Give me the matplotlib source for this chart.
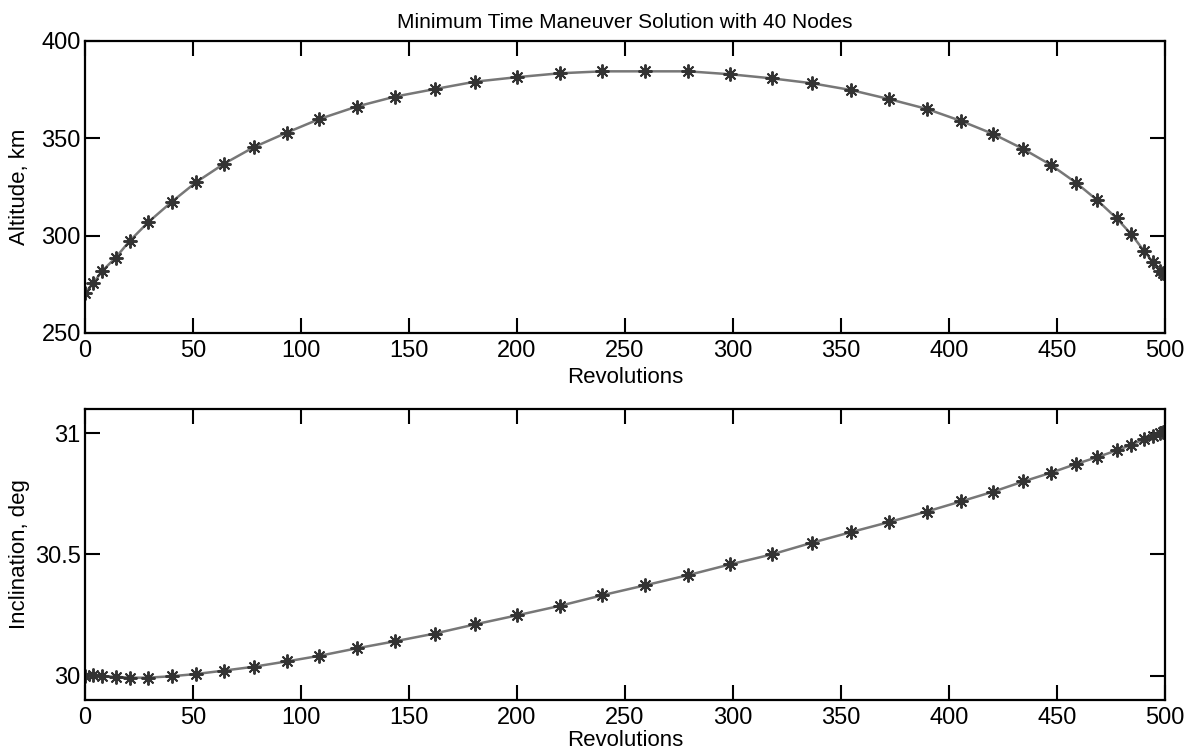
import matplotlib
matplotlib.use('Agg')
import matplotlib.pyplot as plt
from matplotlib.ticker import FuncFormatter

plt.rcParams['font.family'] = ['Liberation Sans', 'DejaVu Sans']

# node locations (revolutions)
revolutions = [0.0, 3.8, 8.1, 14.2, 20.8, 29.3, 40.1, 51.4, 64.2, 78.1,
               93.4, 108.5, 125.8, 143.5, 162.0, 180.7, 200.0, 219.8, 239.5, 259.4,
               279.3, 298.6, 317.9, 336.4, 354.6, 372.4, 389.7, 405.6, 420.5, 434.4,
               447.2, 458.8, 468.5, 477.6, 484.4, 490.2, 494.4, 497.6, 499.3, 500.0]

altitude = [270.5, 275.6, 282.0, 288.7, 297.4, 306.9, 317.3, 327.4, 336.8, 345.4,
            352.9, 359.9, 366.3, 371.4, 375.3, 379.1, 381.4, 383.4, 384.4, 384.4,
            384.4, 382.9, 380.8, 378.3, 374.8, 370.1, 365.1, 358.9, 352.2, 344.5,
            336.3, 327.2, 318.3, 308.9, 300.7, 292.3, 286.3, 282.0, 280.7, 280.0]

inclination = [30.000, 30.003, 29.998, 29.996, 29.992, 29.992, 29.998, 30.007, 30.021, 30.037,
               30.059, 30.082, 30.113, 30.142, 30.174, 30.212, 30.249, 30.288, 30.332, 30.373,
               30.415, 30.459, 30.500, 30.548, 30.592, 30.634, 30.677, 30.719, 30.759, 30.801,
               30.837, 30.873, 30.901, 30.929, 30.952, 30.975, 30.990, 31.000, 31.005, 31.008]

x_ticks = [0, 50, 100, 150, 200, 250, 300, 350, 400, 450, 500]
alt_ticks = [250, 300, 350, 400]
inc_ticks = [30, 30.5, 31]

fig = plt.figure(figsize=(11.9, 7.53), dpi=100)
ax1 = fig.add_axes([0.0714, 0.5578, 0.9076, 0.3878])
ax2 = fig.add_axes([0.0714, 0.0704, 0.9076, 0.3865])

line_col = '#777777'
mark_col = '#333333'
asterisk = (8, 2, 0)  # MATLAB style '*'


def style(ax, xpad):
    ax.set_xlim(0, 500)
    ax.set_xticks(x_ticks)
    ax.tick_params(direction='in', length=11, width=1.5, top=True, right=True,
                   labelsize=17, colors='black')
    ax.tick_params(axis='x', pad=5)
    ax.tick_params(axis='y', pad=3)
    for s in ax.spines.values():
        s.set_linewidth(1.6)
    ax.set_xlabel('Revolutions', fontsize=16, labelpad=xpad)
    ax.yaxis.set_label_coords(-0.051, 0.5)


ax1.plot(revolutions, altitude, '-', color=line_col, lw=1.8)
ax1.plot(revolutions, altitude, ls='none', marker=asterisk, color=mark_col, ms=10, mew=1.4)
ax1.set_ylim(250, 400)
ax1.set_yticks(alt_ticks)
style(ax1, 4)
ax1.set_ylabel('Altitude, km', fontsize=16)
ax1.set_title('Minimum Time Maneuver Solution with 40 Nodes', fontsize=15, pad=9)

ax2.plot(revolutions, inclination, '-', color=line_col, lw=1.8)
ax2.plot(revolutions, inclination, ls='none', marker=asterisk, color=mark_col, ms=10, mew=1.4)
ax2.set_ylim(29.9, 31.1)
ax2.set_yticks(inc_ticks)
ax2.yaxis.set_major_formatter(FuncFormatter(lambda v, p: f'{v:g}'))
style(ax2, 1)
ax2.set_ylabel('Inclination, deg', fontsize=16)

fig.savefig('out.png', dpi=100)
